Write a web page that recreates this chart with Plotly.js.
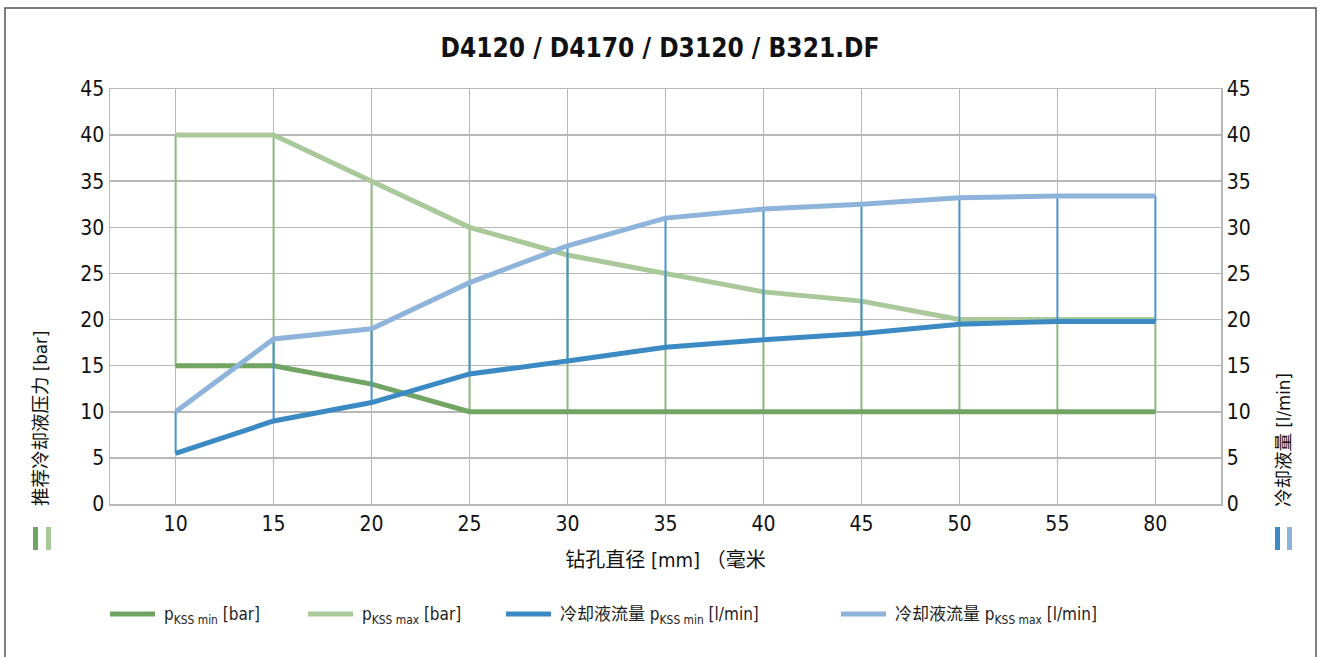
<!DOCTYPE html>
<html>
<head>
<meta charset="utf-8">
<script src="https://cdn.plot.ly/plotly-3.0.1.min.js"></script>
<style>html,body{margin:0;padding:0;background:#fff;}#chart{width:1320px;height:657px;}</style>
</head>
<body>
<div id="chart"></div>
<script>
// ---- data ----
const diameters = ["10","15","20","25","30","35","40","45","50","55","80"];
const pressureMin = [15, 15, 13, 10, 10, 10, 10, 10, 10, 10, 10];
const pressureMax = [40, 40, 35, 30, 27, 25, 23, 22, 20, 20, 20];
const flowMin = [5.5, 9, 11, 14.1, 15.5, 17, 17.8, 18.5, 19.5, 19.8, 19.8];
const flowMax = [10, 17.9, 19, 24, 28, 31, 32, 32.5, 33.2, 33.4, 33.4];
const yTicks = [0,5,10,15,20,25,30,35,40,45];
const legendNames = [
  "p<sub>KSS min</sub> [bar]",
  "p<sub>KSS max</sub> [bar]",
  "冷却液流量 p<sub>KSS min</sub> [l/min]",
  "冷却液流量 p<sub>KSS max</sub> [l/min]"
];

const FONT = "'DejaVu Sans Condensed', 'Noto Sans CJK SC', sans-serif";
const C = {
  pmin: "#72a463", pmax: "#a9c99b", fmin: "#3c8ac4", fmax: "#8fb4dc",
  gv: "#8cb87f", bv: "#4a94cc", grid: "#b8b8b8"
};

function rangeSegments(lo, hi) {
  const xs = [], ys = [];
  diameters.forEach((d, i) => { xs.push(d, d, null); ys.push(lo[i], hi[i], null); });
  return {xs, ys};
}
const gseg = rangeSegments(pressureMin, pressureMax);
const bseg = rangeSegments(flowMin, flowMax);

const traces = [
  {x: gseg.xs, y: gseg.ys, mode: "lines", line: {color: C.gv, width: 2}, hoverinfo: "skip", showlegend: false},
  {x: bseg.xs, y: bseg.ys, mode: "lines", line: {color: C.bv, width: 2}, yaxis: "y2", hoverinfo: "skip", showlegend: false},
  {x: diameters, y: pressureMax, mode: "lines", name: legendNames[1], line: {color: C.pmax, width: 5}},
  {x: diameters, y: pressureMin, mode: "lines", name: legendNames[0], line: {color: C.pmin, width: 5}},
  {x: diameters, y: flowMax, mode: "lines", name: legendNames[3], line: {color: C.fmax, width: 5}, yaxis: "y2"},
  {x: diameters, y: flowMin, mode: "lines", name: legendNames[2], line: {color: C.fmin, width: 5}, yaxis: "y2"}
];

const L = 110, R = 1221, T = 89, B = 504;
const W = R - L, H = B - T;
const px = v => (v - L) / W;
const py = v => (B - v) / H;

const shapes = [
  // outer frame
  {type: "rect", xref: "paper", yref: "paper", x0: px(5), x1: px(1316), y0: py(720), y1: py(8), line: {color: "#555", width: 1.5}, layer: "below"},
  // axis colour markers
  {type: "rect", xref: "paper", yref: "paper", x0: px(33), x1: px(38), y0: py(550), y1: py(527), fillcolor: C.pmin, line: {width: 0}},
  {type: "rect", xref: "paper", yref: "paper", x0: px(46), x1: px(51), y0: py(550), y1: py(527), fillcolor: C.pmax, line: {width: 0}},
  {type: "rect", xref: "paper", yref: "paper", x0: px(1275), x1: px(1280), y0: py(550), y1: py(527), fillcolor: C.fmin, line: {width: 0}},
  {type: "rect", xref: "paper", yref: "paper", x0: px(1287), x1: px(1292), y0: py(550), y1: py(527), fillcolor: C.fmax, line: {width: 0}}
];
const legendPos = [[110, 162, C.pmin], [308, 360, C.pmax], [506, 558, C.fmin], [841, 893, C.fmax]];
const annotations = [
  {xref: "paper", yref: "paper", x: px(40), y: py(419), xanchor: "center", yanchor: "middle", text: "推荐冷却液压力 [bar]", textangle: -90, showarrow: false, font: {family: FONT, size: 18.5, color: "#111"}},
  {xref: "paper", yref: "paper", x: px(1283), y: py(440), xanchor: "center", yanchor: "middle", text: "冷却液量 [l/min]", textangle: -90, showarrow: false, font: {family: FONT, size: 18.5, color: "#111"}}
];
legendPos.forEach((p, i) => {
  shapes.push({type: "line", xref: "paper", yref: "paper", x0: px(p[0]), x1: px(p[0] + 45), y0: py(614), y1: py(614), line: {color: p[2], width: 5}});
  annotations.push({xref: "paper", yref: "paper", x: px(p[1]), y: py(615), xanchor: "left", yanchor: "middle", text: legendNames[i], showarrow: false, font: {family: FONT, size: 17, color: "#222"}});
});

const yAxisBase = {
  range: [0, 45], tickvals: yTicks, showgrid: true, gridcolor: C.grid, gridwidth: 1.5,
  zeroline: false, showline: true, linecolor: C.grid, linewidth: 1.5, ticks: "",
  tickfont: {family: FONT, size: 21, color: "#111"}, fixedrange: true
};

const layout = {
  width: 1320, height: 657,
  margin: {l: L, r: 1320 - R, t: T, b: 657 - B},
  paper_bgcolor: "#fff", plot_bgcolor: "#fff",
  showlegend: false,
  title: {text: "<b>D4120 / D4170 / D3120 / B321.DF</b>", x: 0.5, xanchor: "center", y: 1 - 48 / 657, yanchor: "middle", yref: "container",
          font: {family: FONT, size: 26, color: "#111"}},
  xaxis: {
    type: "category", categoryorder: "array", categoryarray: diameters,
    range: [-0.67, 10.67], showgrid: true, gridcolor: C.grid, gridwidth: 1.5,
    showline: true, mirror: true, linecolor: C.grid, linewidth: 1.5, ticks: "",
    tickfont: {family: FONT, size: 21, color: "#111"},
    title: {text: "钻孔直径 [mm] （毫米", font: {family: FONT, size: 20, color: "#111"}, standoff: 18}
  },
  yaxis: Object.assign({}, yAxisBase, {mirror: true}),
  yaxis2: Object.assign({}, yAxisBase, {overlaying: "y", side: "right", showgrid: false}),
  shapes: shapes,
  annotations: annotations
};

Plotly.newPlot("chart", traces, layout, {displayModeBar: false, staticPlot: true});
</script>
</body>
</html>
